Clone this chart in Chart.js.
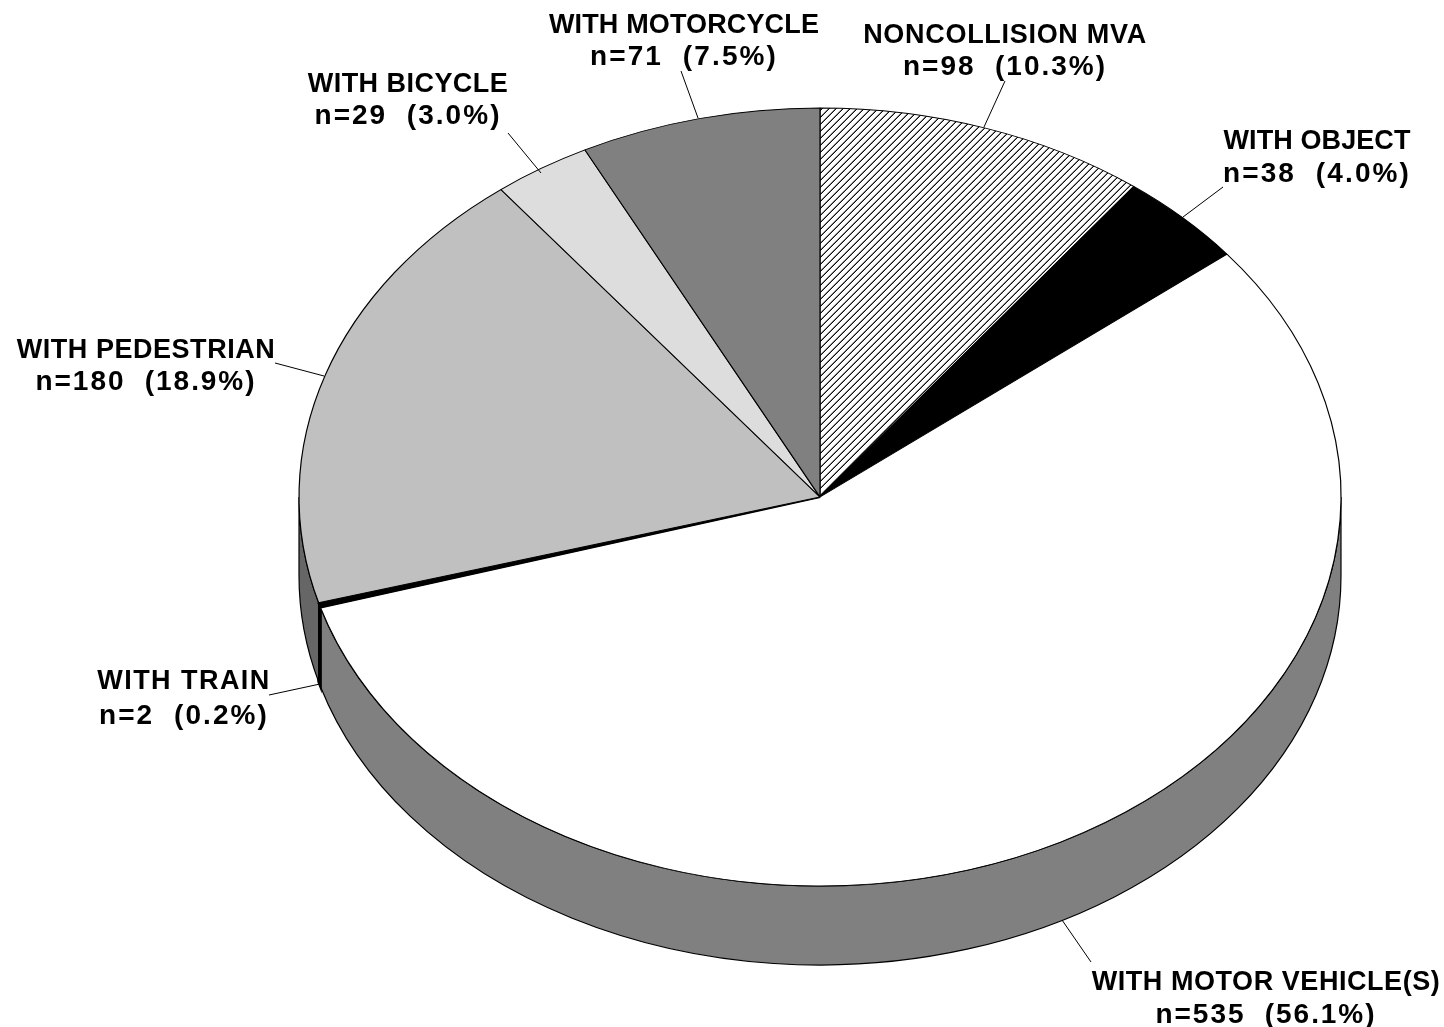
<!DOCTYPE html>
<html lang="en">
<head>
    <meta charset="UTF-8">
    <title>Crash types</title>
    <style>
        body { margin: 0; background: white; }
        canvas { display: block; }
    </style>
</head>
<body>
    <canvas id="pieChart" width="1444" height="1027"></canvas>

    <script src="https://cdn.jsdelivr.net/npm/chart.js"></script>
    <script>
        // values, clockwise from 12 o'clock
        const categories = ['NONCOLLISION MVA', 'WITH OBJECT', 'WITH MOTOR VEHICLE(S)', 'WITH TRAIN', 'WITH PEDESTRIAN', 'WITH BICYCLE', 'WITH MOTORCYCLE'];
        const counts = [98, 38, 535, 2, 180, 29, 71];
        const percents = ['10.3', '4.0', '56.1', '0.2', '18.9', '3.0', '7.5'];

        const wallColors = ['#808080', '#000000', '#808080', '#000000', '#666666', '#dddddd', '#808080'];
        const edgeWidths = [1.2, 1.2, 1.2, 2.6, 1.2, 1.2, 1.2];

        // label centre x, baselines of both lines, widths of both lines, then leader line x1,y1,x2,y2
        const labelSpots = [
            [1005, 43, 75, 283, 202, 1005, 81, 984, 127],
            [1317, 149, 182, 187, 186, 1223, 187, 1183, 217],
            [1266, 990, 1023, 348, 219, 1062, 920, 1091, 962],
            [184, 689, 724, 172, 168, 269, 695, 320, 684],
            [146, 358, 390, 258, 219, 275, 363, 324, 376],
            [408, 92, 124, 200, 185, 508, 133, 541, 173],
            [684, 33, 65, 270, 186, 681, 71, 698, 118]
        ];

        const centerX = 820, centerY = 497, radiusX = 521, radiusY = 389, depth = 79;

        function hatchPattern(ctx) {
            const size = 7;
            const tile = document.createElement('canvas');
            tile.width = size;
            tile.height = size;
            const t = tile.getContext('2d');
            t.fillStyle = 'white';
            t.fillRect(0, 0, size, size);
            for (let i = 0; i < size; i++) {
                t.fillStyle = '#888888';
                t.fillRect(i, (2 * size - 2 - i) % size, 1, 1);
                t.fillStyle = 'black';
                t.fillRect(i, size - 1 - i, 1, 1);
            }
            const pattern = ctx.createPattern(tile, 'repeat');
            // the pie gets squashed below, undo that for the stripes
            pattern.setTransform(new DOMMatrix().scale(1, radiusX / radiusY));
            return pattern;
        }

        // spreads the letters so the line comes out at the width in the picture
        function fitText(ctx, text, x, y, width) {
            ctx.letterSpacing = '0px';
            const extra = (width - ctx.measureText(text).width) / (text.length - 1);
            ctx.letterSpacing = extra.toFixed(2) + 'px';
            ctx.fillText(text, x, y);
        }

        const tiltPlugin = {
            id: 'tilt',
            beforeDatasetsDraw(chart) {
                const ctx = chart.ctx;
                const arcs = chart.getDatasetMeta(0).data;

                // side wall, only the front half of the rim shows
                arcs.forEach((arc, i) => {
                    const a = Math.max(arc.startAngle, 0);
                    const b = Math.min(arc.endAngle, Math.PI);
                    if (b <= a) return;
                    ctx.beginPath();
                    ctx.ellipse(centerX, centerY, radiusX, radiusY, 0, a, b);
                    ctx.ellipse(centerX, centerY + depth, radiusX, radiusY, 0, b, a, true);
                    ctx.closePath();
                    ctx.fillStyle = wallColors[i];
                    ctx.fill();
                    ctx.strokeStyle = 'black';
                    ctx.lineWidth = edgeWidths[i];
                    ctx.stroke();
                });

                ctx.save();
                ctx.translate(centerX, centerY);
                ctx.scale(1, radiusY / radiusX);
                ctx.translate(-centerX, -centerY);
            },
            afterDatasetsDraw(chart) {
                chart.ctx.restore();
            },
            afterDraw(chart) {
                const ctx = chart.ctx;
                ctx.save();
                ctx.fillStyle = 'black';
                ctx.strokeStyle = 'black';
                ctx.lineWidth = 1;
                ctx.textAlign = 'center';
                ctx.textBaseline = 'alphabetic';
                categories.forEach((name, i) => {
                    const s = labelSpots[i];
                    ctx.font = 'bold 27px "Liberation Sans", Arial, sans-serif';
                    fitText(ctx, name, s[0], s[1], s[3]);
                    ctx.font = 'bold 28px "Liberation Sans", Arial, sans-serif';
                    fitText(ctx, `n=${counts[i]}  (${percents[i]}%)`, s[0], s[2], s[4]);
                    ctx.beginPath();
                    ctx.moveTo(s[5], s[6]);
                    ctx.lineTo(s[7], s[8]);
                    ctx.stroke();
                });
                ctx.restore();
            }
        };

        const ctx = document.getElementById('pieChart').getContext('2d');
        const hatch = hatchPattern(ctx);

        new Chart(ctx, {
            type: 'pie',
            data: {
                labels: categories,
                datasets: [{
                    data: counts,
                    backgroundColor: [hatch, '#000000', '#ffffff', '#000000', '#c0c0c0', '#dddddd', '#808080'],
                    borderColor: 'black',
                    borderWidth: edgeWidths,
                    radius: radiusX,
                    clip: false
                }]
            },
            options: {
                responsive: false,
                animation: false,
                // puts the pie centre on centerX, centerY
                layout: { padding: { left: 196, bottom: 33 } },
                plugins: {
                    legend: { display: false },
                    tooltip: { enabled: false }
                }
            },
            plugins: [tiltPlugin]
        });
    </script>
</body>
</html>
